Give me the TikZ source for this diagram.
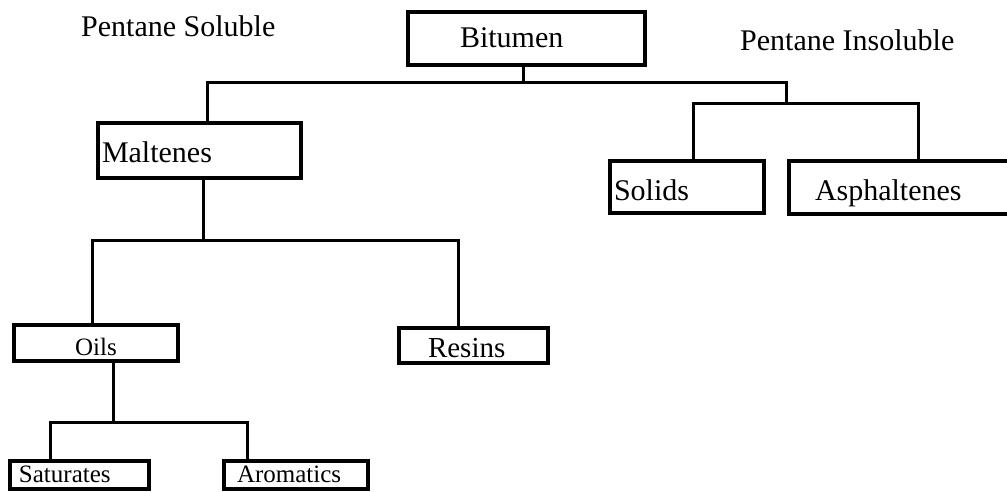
\documentclass[tikz,border=0pt]{standalone}
\usepackage{fontspec}
\setmainfont{Liberation Serif}
\usetikzlibrary{positioning}

\newcommand{\bigtxt}{\fontsize{30}{35}\selectfont}
\newcommand{\midtxt}{\fontsize{29}{34}\selectfont}
\newcommand{\smalltxt}{\fontsize{25}{29}\selectfont}

\begin{document}
\begin{tikzpicture}[
  x=1pt, y=-1pt,
  fracbox/.style={
    rectangle, draw=black, line width=3.5pt,
    inner ysep=0pt, align=left, text depth=0pt,
    font=\bigtxt
  },
  conn/.style={line width=3pt, draw=black}
]
\useasboundingbox (0,0) rectangle (1007,491);

% headings
\node[font=\bigtxt, anchor=base west, inner sep=0pt] (sol) at (81,36) {Pentane Soluble};
\node[font=\bigtxt, anchor=base west, inner sep=0pt] (insol) at (740,50) {Pentane Insoluble};

% boxes
\node[fracbox, minimum height=53pt, text height=17pt, text width=133pt, inner xsep=52pt] (bitumen) at (526.5,38.5) {Bitumen};
\node[fracbox, minimum height=55pt, text height=23pt, text width=195pt, inner xsep=4pt]  (maltenes) at (199.5,150.5) {Maltenes};
\node[fracbox, minimum height=52pt, text height=26pt, text width=146pt, inner xsep=4pt]  (solids) at (687,187) {Solids};
\node[fracbox, minimum height=53pt, text height=25pt, text width=171pt, inner xsep=26pt] (asph) at (900.5,187.5) {Asphaltenes};
\node[fracbox, minimum height=36pt, text height=24pt, text width=144pt, inner xsep=10pt, align=center, font=\smalltxt] (oils) at (96,343) {Oils};
\node[fracbox, minimum height=35pt, text height=23pt, text width=91pt, inner xsep=29pt, font=\midtxt] (resins) at (473.5,345.5) {Resins};
\node[fracbox, minimum height=28pt, text height=14pt, text width=121pt, inner xsep=9pt, font=\smalltxt]  (sat) at (79.5,475) {Saturates};
\node[fracbox, minimum height=28pt, text height=14pt, text width=118pt, inner xsep=13pt, font=\smalltxt] (arom) at (296,475) {Aromatics};

% bus points
\coordinate (bj) at (523,82);
\coordinate (tl) at (207,82);
\coordinate (tr) at (786,82);
\coordinate (ib) at (786,103);
\coordinate (il) at (693,103);
\coordinate (ir) at (918,103);
\coordinate (mm) at (203,240);
\coordinate (ml) at (92,240);
\coordinate (mr) at (458,240);
\coordinate (om) at (113,422);
\coordinate (ol) at (50,422);
\coordinate (or) at (247,422);

\draw[conn] (bitumen.south -| bj) -- (bj);
\draw[conn] (maltenes.north -| tl) -- (tl) -- (tr) -- (ib);
\draw[conn] (solids.north -| il) -- (il) -- (ir) -- (asph.north -| ir);

\draw[conn] (maltenes.south -| mm) -- (mm);
\draw[conn] (oils.north -| ml) -- (ml) -- (mr) -- (resins.north -| mr);

\draw[conn] (oils.south -| om) -- (om);
\draw[conn] (sat.north -| ol) -- (ol) -- (or) -- (arom.north -| or);
\end{tikzpicture}
\end{document}
